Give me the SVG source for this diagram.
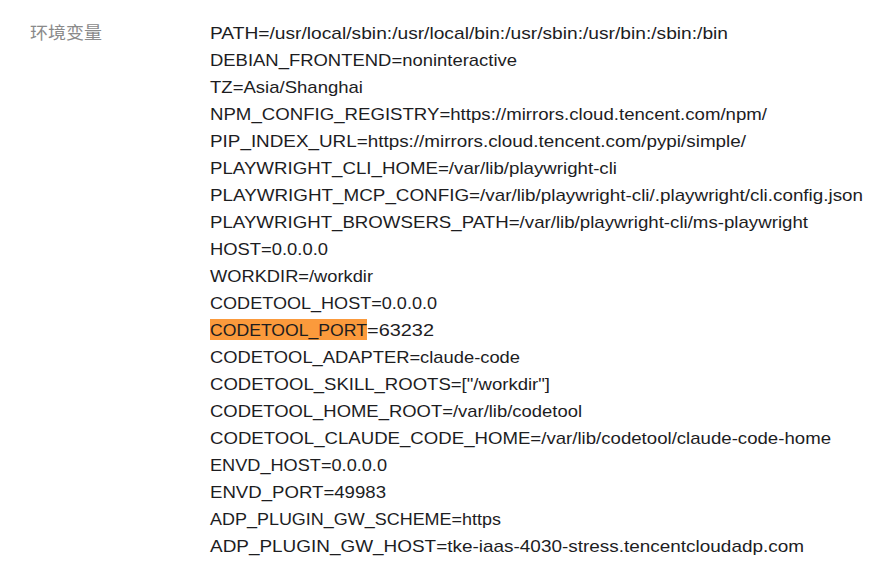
<svg xmlns="http://www.w3.org/2000/svg" width="894" height="572" viewBox="0 0 894 572">
<style>
.v{font-family:"Liberation Sans","Noto Sans CJK SC",sans-serif;font-size:17px;fill:#1d1d1f}
.k{font-family:"Noto Sans CJK SC","Liberation Sans",sans-serif;font-size:17px;fill:#8a8a8a}
</style>
<rect width="894" height="572" fill="#ffffff"/>
<g id="label">
<text class="k" x="30" y="39" textLength="72" lengthAdjust="spacingAndGlyphs">环境变量</text>
</g>
<rect x="210" y="319" width="157" height="21" fill="#fb9a3c"/>
<g id="values" class="v">
<text x="210" y="39" textLength="518" lengthAdjust="spacingAndGlyphs">PATH=/usr/local/sbin:/usr/local/bin:/usr/sbin:/usr/bin:/sbin:/bin</text>
<text x="210" y="66" textLength="307" lengthAdjust="spacingAndGlyphs">DEBIAN_FRONTEND=noninteractive</text>
<text x="210" y="93" textLength="153" lengthAdjust="spacingAndGlyphs">TZ=Asia/Shanghai</text>
<text x="210" y="120" textLength="557" lengthAdjust="spacingAndGlyphs">NPM_CONFIG_REGISTRY=https://mirrors.cloud.tencent.com/npm/</text>
<text x="210" y="147" textLength="536" lengthAdjust="spacingAndGlyphs">PIP_INDEX_URL=https://mirrors.cloud.tencent.com/pypi/simple/</text>
<text x="210" y="174" textLength="407" lengthAdjust="spacingAndGlyphs">PLAYWRIGHT_CLI_HOME=/var/lib/playwright-cli</text>
<text x="210" y="201" textLength="653" lengthAdjust="spacingAndGlyphs">PLAYWRIGHT_MCP_CONFIG=/var/lib/playwright-cli/.playwright/cli.config.json</text>
<text x="210" y="228" textLength="598" lengthAdjust="spacingAndGlyphs">PLAYWRIGHT_BROWSERS_PATH=/var/lib/playwright-cli/ms-playwright</text>
<text x="210" y="255" textLength="118" lengthAdjust="spacingAndGlyphs">HOST=0.0.0.0</text>
<text x="210" y="282" textLength="163" lengthAdjust="spacingAndGlyphs">WORKDIR=/workdir</text>
<text x="210" y="309" textLength="227" lengthAdjust="spacingAndGlyphs">CODETOOL_HOST=0.0.0.0</text>
<text x="210" y="336" textLength="157" lengthAdjust="spacingAndGlyphs">CODETOOL_PORT</text>
<text x="367" y="336" textLength="67" lengthAdjust="spacingAndGlyphs">=63232</text>
<text x="210" y="363" textLength="310" lengthAdjust="spacingAndGlyphs">CODETOOL_ADAPTER=claude-code</text>
<text x="210" y="390" textLength="340" lengthAdjust="spacingAndGlyphs">CODETOOL_SKILL_ROOTS=["/workdir"]</text>
<text x="210" y="417" textLength="372" lengthAdjust="spacingAndGlyphs">CODETOOL_HOME_ROOT=/var/lib/codetool</text>
<text x="210" y="444" textLength="621" lengthAdjust="spacingAndGlyphs">CODETOOL_CLAUDE_CODE_HOME=/var/lib/codetool/claude-code-home</text>
<text x="210" y="471" textLength="177" lengthAdjust="spacingAndGlyphs">ENVD_HOST=0.0.0.0</text>
<text x="210" y="498" textLength="176" lengthAdjust="spacingAndGlyphs">ENVD_PORT=49983</text>
<text x="210" y="525" textLength="291" lengthAdjust="spacingAndGlyphs">ADP_PLUGIN_GW_SCHEME=https</text>
<text x="210" y="552" textLength="594" lengthAdjust="spacingAndGlyphs">ADP_PLUGIN_GW_HOST=tke-iaas-4030-stress.tencentcloudadp.com</text>
</g>
</svg>
